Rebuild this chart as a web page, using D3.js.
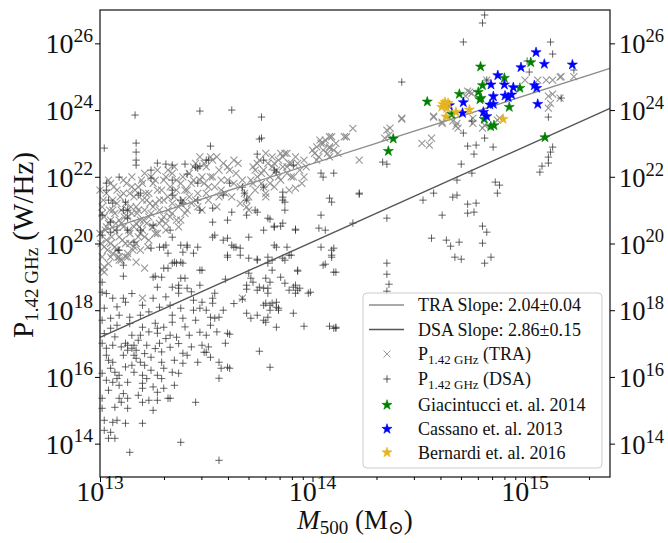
<!DOCTYPE html>
<html>
<head>
<meta charset="utf-8">
<script src="https://cdn.jsdelivr.net/npm/d3@7"></script>
<style>
body { margin: 0; background: #fff; }
text { font-family: "Liberation Serif", "DejaVu Serif", serif; fill: #111; }
</style>
</head>
<body>
<svg id="drawing_region"></svg>
<script>
// values are log10(M500 / Msun), log10(P / W Hz^-1)
var traLog = [
 [13.00,20.3],[13.01,19.6],[13.01,21.1],[13.02,20.8],[13.02,19.9],[13.03,21.5],[13.03,20.1],[13.04,19.4],[13.04,20.6],[13.05,21.8],
 [13.05,20.0],[13.06,19.7],[13.06,21.3],[13.07,20.4],[13.07,20.9],[13.08,19.8],[13.08,21.6],[13.09,20.2],[13.09,20.7],[13.10,21.0],
 [13.10,19.5],[13.11,20.5],[13.11,21.9],[13.12,20.0],[13.12,21.2],[13.13,20.8],[13.13,19.7],[13.14,21.5],[13.14,20.3],[13.15,22.0],
 [13.15,20.9],[13.16,19.9],[13.16,21.4],[13.17,20.6],[13.17,21.1],[13.18,20.2],[13.18,21.7],[13.19,20.7],[13.19,19.8],[13.20,21.3],
 [13.20,20.4],[13.21,21.0],[13.21,22.1],[13.22,20.6],[13.23,21.5],[13.23,20.1],[13.24,20.9],[13.25,21.8],[13.25,20.5],[13.26,21.2],
 [13.27,20.3],[13.27,22.2],[13.28,21.0],[13.29,20.7],[13.29,21.6],[13.30,21.3],[13.31,20.6],[13.31,22.0],[13.32,21.0],[13.33,21.7],
 [13.34,20.9],[13.35,21.4],[13.35,22.3],[13.36,20.7],[13.37,21.1],[13.38,21.8],[13.39,21.3],[13.40,20.9],
 [13.41,21.6],[13.42,22.1],[13.43,21.2],[13.44,21.9],[13.45,22.4],[13.46,21.5],[13.47,22.6],[13.48,21.0],[13.49,21.8],[13.50,22.3],
 [13.51,21.3],[13.52,22.0],[13.53,22.5],[13.54,21.7],[13.55,21.1],[13.56,22.2],[13.57,21.6],[13.58,22.4],[13.60,21.9],[13.62,21.4],
 [13.64,22.1],[13.66,21.7],[13.68,21.5],[13.69,21.3],[13.69,21.1],[13.70,21.4],[13.70,21.0],
 [13.71,21.9],[13.72,22.3],[13.73,21.6],[13.74,22.0],[13.75,22.5],[13.76,21.8],[13.77,22.2],[13.78,21.5],[13.79,22.4],[13.80,22.0],
 [13.81,22.6],[13.82,21.7],[13.83,22.2],[13.84,22.5],[13.85,21.9],[13.86,22.3],[13.87,22.7],[13.88,22.1],[13.89,21.6],[13.90,22.4],
 [13.91,22.0],[13.92,22.6],[13.94,22.2],[13.95,21.8],[13.96,22.5],
 [14.01,22.7],[14.02,22.9],[14.03,22.6],[14.04,23.0],[14.05,22.8],[14.06,23.1],[14.07,22.7],[14.08,22.9],[14.09,23.2],[14.10,22.8],
 [14.11,23.0],[14.12,22.7],[14.19,23.45],[14.16,23.2],[14.22,22.5],[13.88,22.7],[13.92,21.66],[13.96,22.0],[13.78,21.4],
 [14.35,23.4],[14.36,23.25],[14.365,23.46],[14.34,23.16],[14.515,23.0],[14.56,23.16],[14.42,23.73],[14.57,23.79],[14.61,23.64],
 [14.68,23.6],[14.65,23.85],[14.74,24.54],[14.755,23.76],[14.81,23.55],[14.82,24.9],[14.66,23.67],[14.675,23.52],[14.73,24.57],
 [14.755,23.6],[14.80,23.46],[14.87,23.7],[15.0,24.9],[15.06,24.9],[15.10,24.9],[15.13,24.9],[15.17,25.0],[15.23,25.0],[15.11,24.42],
 [15.13,24.48],[15.12,24.2],[15.11,24.06],[14.72,24.42],[14.75,24.5],[14.85,24.39],[14.55,22.95],[14.88,23.76],[15.165,24.99],
 [15.165,24.36],[14.685,23.46],[14.15,23.2],[14.08,22.86],[14.42,23.76],[14.57,23.82],[14.61,23.6],[14.08,23.2],[14.035,23.1],
 [13.02,19.14],[13.20,18.36],[13.17,19.44],[13.21,19.26],[13.05,19.59],[13.09,19.59],[13.13,19.59],[13.67,18.36],[13.01,19.2],
 [13.00,21.6],[13.01,20.9],[13.02,19.3],[13.03,20.5],[13.04,21.9],[13.05,20.7],[13.06,21.0],[13.07,19.9],[13.08,21.2],[13.09,19.5],
 [13.10,20.6],[13.11,21.5],[13.12,19.6],[13.13,21.0],[13.14,20.0],[13.15,21.7],[13.16,20.5],[13.17,20.0],[13.18,21.0],[13.19,20.3],
 [13.20,21.8],[13.21,20.2],[13.22,21.3],[13.23,20.8],[13.24,22.0],[13.25,21.1],[13.26,20.3],[13.27,21.6],[13.28,20.6],[13.30,21.9],
 [13.31,20.4],[13.32,21.4],[13.33,20.8],[13.34,22.1],[13.36,21.6],[13.37,20.5],[13.38,21.2],[13.39,22.0],[13.41,21.0],[13.43,21.8],
 [13.45,21.3],[13.47,21.9],[13.49,22.4],[13.51,21.7],[13.53,22.0],[13.55,22.6],[13.57,21.9],[13.59,21.5],[13.61,22.2],[13.63,21.8],
 [13.65,22.4],[13.67,21.9],[13.72,21.8],[13.74,22.4],[13.76,22.1],[13.78,22.7],[13.80,21.8],[13.82,22.4],[13.84,22.0],[13.86,22.6],
 [13.88,22.3],[13.90,22.0],[13.93,22.4],[13.97,22.3],[14.00,22.8],[14.02,22.5],[14.05,23.0],[14.08,22.6],
 [13.005,20.0],[13.015,21.3],[13.025,20.4],[13.035,19.8],[13.045,21.0],[13.055,20.2],[13.065,21.7],[13.075,20.6],[13.085,19.6],[13.095,21.4],
 [13.105,20.1],[13.115,20.8],[13.125,21.8],[13.135,20.4],[13.145,21.1],[13.155,19.8],[13.165,21.6],[13.175,20.9],[13.185,20.5],[13.195,21.9],
 [13.205,20.7],[13.215,21.5],[13.225,19.9],[13.235,21.2],[13.245,20.5],[13.26,21.9],[13.28,21.3],[13.30,20.8],[13.32,22.2],[13.34,21.2],
 [13.36,21.9],[13.38,20.7],[13.40,21.6],[13.42,21.4],[13.44,22.3],[13.46,21.1],[13.48,22.0],[13.50,21.5],[13.52,22.6],[13.56,21.4],
 [13.60,22.3],[13.63,22.5],[13.66,21.2],[13.73,22.2],[13.77,21.7],[13.81,22.3],[13.85,22.7],[13.89,22.4]
];

var dsaLog = [
 [13.02,22.86],[13.165,23.85],[13.17,23.01],[13.17,22.74],[13.17,22.5],[13.17,22.35],[13.47,23.97],[13.62,24.0],[13.76,23.79],[13.76,23.16],
 [13.52,22.92],[13.74,22.68],[13.77,22.5],[13.27,22.41],[13.31,22.38],[13.34,22.35],[13.40,22.38],[13.45,22.29],[13.47,22.32],[13.50,22.5],
 [13.03,21.81],[13.09,21.99],[13.04,21.3],[13.11,21.0],[13.19,21.51],[13.05,20.64],[13.13,20.4],[13.34,21.9],[13.38,21.3],[13.39,21.21],
 [13.46,21.81],[13.53,20.64],[13.60,20.7],[13.62,20.94],[13.53,20.19],[13.58,20.1],[13.63,19.89],[13.66,19.86],[13.70,19.56],[13.74,19.53],
 [13.79,19.59],[13.81,19.5],[13.83,19.89],[13.88,19.89],[13.86,19.56],[13.89,19.65],[13.73,21.0],[13.79,20.76],[13.82,20.49],[13.86,20.61],
 [13.87,21.0],[13.77,20.4],[13.92,20.4],[13.86,21.54],[13.86,21.3],[14.04,20.85],[14.03,20.46],[14.06,20.4],[14.04,19.89],[14.09,19.8],
 [14.05,19.35],[14.10,19.14],[14.08,21.36],[14.09,21.24],[14.04,22.11],[14.10,22.11],[13.38,19.95],[13.41,19.89],[13.32,19.71],[13.30,19.89],
 [13.26,19.02],[13.30,19.26],[13.47,19.2],[13.34,19.41],[13.36,19.41],[13.39,19.41],[13.11,19.35],[13.085,19.8],[13.70,20.19],[13.61,21.81],
 [13.67,21.69],[13.68,21.51],[13.69,21.3],[13.77,21.69],[13.83,22.14],[13.91,22.35],[13.75,23.13],[13.82,22.2],[13.86,21.39],[13.87,21.24],
 [13.69,20.85],[13.74,20.94],[13.80,20.73],[13.82,20.52],[13.85,20.52],[13.92,20.43],[14.22,21.48],[14.19,20.61],[13.82,19.95],[13.62,19.95],
 [13.64,19.89],[13.66,19.65],[13.60,19.65],[13.90,19.65],[14.09,19.65],[14.05,21.99],
 [13.34,21.6],[13.34,21.45],[13.18,21.45],[13.03,21.6],[13.12,21.24],[13.13,21.0],[13.06,21.21],[13.01,20.85],[13.08,20.4],[13.05,20.34],
 [13.19,20.4],[13.13,20.76],[13.25,20.55],[13.33,20.4],[13.34,20.19],[13.24,19.86],[13.09,19.8],[13.16,20.04],[13.28,19.89],[13.31,19.95],
 [13.39,19.74],[13.41,19.95],[13.46,19.89],[13.44,19.71],[13.54,20.25],[13.60,20.16],[13.53,21.06],[13.58,21.45],[13.47,21.0],[13.46,21.3],
 [13.01,20.25],[13.24,22.2],[13.24,21.96],[13.46,22.26],[13.51,22.5],[13.41,22.08],
 [13.35,19.44],[13.38,19.44],[13.32,19.26],[13.48,19.2],[13.11,19.02],[13.25,18.99],[13.29,18.99],[13.38,18.96],[13.40,18.96],[13.01,18.84],
 [13.01,18.54],[13.27,18.69],[13.34,18.69],[13.37,18.75],[13.37,18.66],[13.37,18.51],[13.41,18.66],[13.47,18.75],[13.25,18.36],[13.06,18.36],
 [13.11,18.36],[13.12,18.24],[13.28,18.09],[13.33,18.15],[13.38,18.06],[13.44,18.3],[13.48,18.24],[13.53,18.36],[13.53,18.21],[13.54,18.51],
 [13.02,18.06],[13.05,17.76],[13.09,17.85],[13.14,17.79],[13.19,17.85],[13.26,17.61],[13.27,17.46],[13.30,17.49],[13.34,17.85],[13.34,17.64],
 [13.39,17.76],[13.44,18.0],[13.47,18.06],[13.52,17.79],[13.54,17.76],[13.56,17.79],[13.60,17.31],[13.01,17.7],[13.05,17.46],[13.08,17.55],
 [13.20,17.49],[13.15,17.25],[13.19,17.25],[13.27,17.31],[13.33,17.25],[13.36,17.19],[13.42,17.25],[13.47,17.34],[13.52,17.55],[13.50,17.25],
 [13.01,17.01],[13.03,16.86],[13.06,16.95],[13.12,17.01],[13.13,16.95],[13.13,16.8],[13.16,16.95],[13.15,16.86],[13.22,16.95],[13.28,17.01],
 [13.33,16.89],[13.39,16.71],[13.41,16.65],[13.46,16.44],[13.52,16.59],[13.50,16.74],[13.03,16.65],[13.06,16.44],[13.11,16.65],[13.16,16.65],
 [13.17,16.56],[13.19,16.44],[13.21,16.35],[13.24,16.59],[13.29,16.44],[13.30,16.26],[13.24,16.2],[13.01,16.11],[13.05,16.26],[13.07,16.14],
 [13.09,16.05],[13.16,16.14],[13.20,16.05],[13.27,16.05],[13.34,16.14],[13.37,16.11],[13.56,15.96],[13.39,16.41],[13.03,15.9],[13.06,15.84],
 [13.09,15.75],[13.13,15.84],[13.20,15.81],[13.20,15.66],[13.27,15.54],[13.30,15.66],[13.32,15.36],[13.01,15.36],[13.01,15.06],[13.07,15.09],
 [13.09,15.36],[13.10,15.24],[13.13,15.06],[13.13,15.36],[13.20,15.24],[13.23,15.3],[13.25,15.0],[13.27,15.3],[13.33,15.36],[13.45,15.24],
 [13.02,14.7],[13.06,14.64],[13.08,14.7],[13.12,14.61],[13.20,14.61],[13.02,14.4],[13.05,14.34],[13.04,14.16],[13.07,14.16],[13.38,14.04],
 [13.14,13.74],[13.56,13.5],[13.57,16.26],[13.60,16.29],[13.56,16.44],[13.75,16.77],[13.80,16.29],[13.59,17.01],[13.49,16.74],
 [13.69,17.91],[13.71,17.76],[13.74,17.85],[13.77,17.7],[13.79,17.79],[13.83,17.49],[13.84,18.0],[13.91,17.91],[13.96,17.52],[14.08,17.52],
 [14.11,17.49],[13.67,18.33],[13.74,18.6],[13.77,18.66],[13.79,18.51],[13.83,18.24],[13.81,18.21],[13.83,18.09],[13.78,18.21],[13.91,18.69],
 [13.93,18.6],[13.98,18.51],[13.80,18.84],[13.85,18.99],[13.87,18.81],[13.93,19.2],[13.69,18.75],[13.72,18.84],[13.59,18.93],[13.60,19.59],
 [13.74,19.5],[13.79,19.41],[13.87,19.5],[13.81,19.2],[13.93,19.17],[14.06,19.38],[14.11,19.14],[14.09,19.59],[13.70,19.11],[13.71,18.96],
 [13.78,18.96],[13.79,18.66],[13.75,18.69],[13.89,18.6],[13.92,18.75],[13.92,18.51],[13.94,18.66],[13.99,18.54],[13.69,18.63],[13.77,18.15],
 [13.80,18.15],[13.84,18.06],[13.80,18.0],[13.78,17.64],[13.61,17.28],[13.61,16.26],
 [14.42,24.84],[14.33,22.44],[14.35,22.38],[14.22,21.51],[14.35,20.76],[14.52,21.3],[14.57,21.51],[14.61,20.85],[14.66,21.39],[14.68,21.45],
 [14.73,22.92],[14.77,22.95],[14.76,22.68],[14.70,22.38],[14.75,22.11],[14.68,21.9],[14.73,21.18],[14.77,21.21],[14.73,20.91],[14.76,20.94],
 [14.56,20.16],[14.63,20.1],[14.65,19.92],[14.69,20.04],[14.67,19.59],[14.70,19.53],[14.80,20.52],[14.82,20.34],[14.80,20.01],[14.81,19.41],
 [14.84,19.59],[14.35,19.41],[14.35,19.08],[14.36,18.78],[14.35,18.57],[14.81,26.85],[14.80,26.61],[14.71,26.04],[15.12,26.04],[15.13,25.68],
 [15.02,25.14],[15.23,25.2],[15.17,24.36],[15.11,23.79],[14.71,23.31],[14.81,23.16],[14.85,22.89],[14.86,21.84],[14.88,21.75],[14.87,21.51],
 [15.08,22.32],[15.07,22.14],[15.11,22.41],[15.13,22.89],[15.12,22.74],[15.11,22.59],[14.10,19.86],[14.10,17.46],[14.11,17.46],[14.82,24.9],
 [15.01,25.47],[14.75,23.67],
 [13.02,17.3],[13.04,16.5],[13.07,17.2],[13.10,16.9],[13.12,16.3],[13.14,17.6],[13.17,16.8],[13.18,17.1],[13.21,16.7],[13.23,17.35],
 [13.26,16.85],[13.29,16.75],[13.31,17.15],[13.35,16.5],[13.37,17.0],[13.40,17.5],[13.43,16.9],[13.45,17.7],[13.48,16.95],[13.51,16.9],
 [13.55,17.35],[13.04,15.6],[13.08,15.95],[13.11,15.5],[13.15,16.35],[13.18,15.45],[13.22,15.95],[13.25,15.7],[13.29,15.95],[13.35,15.75],
 [13.03,18.5],[13.08,18.1],[13.15,18.5],[13.20,18.15],[13.23,17.95],[13.31,18.4],[13.43,18.55],[13.50,18.0],[13.58,18.0],[13.63,18.2]
];

var giacintucciLog = [
 [14.791,25.30],[15.027,25.43],[14.903,24.96],[14.80,24.74],[14.78,24.54],[14.793,24.36],[14.691,24.48],[14.976,24.66],[14.926,24.09],
 [14.54,24.25],[14.655,23.88],[14.808,23.73],[14.839,23.51],[14.854,23.54],[15.094,23.18],[14.38,23.14],[14.357,22.77],[14.788,24.32]
];
var cassanoLog = [
 [15.052,25.73],[15.091,25.38],[15.223,25.36],[14.981,25.28],[14.872,25.04],[14.84,24.76],[14.903,24.76],[14.945,24.68],[15.044,24.74],
 [15.055,24.66],[14.851,24.41],[14.921,24.38],[14.937,24.46],[14.906,24.43],[14.710,24.23],[14.835,24.16],[14.851,24.18],[15.06,24.18],
 [14.644,24.14],[14.804,23.94],[14.82,23.81],[14.706,23.91]
];
var bernardiLog = [
 [14.624,24.24],[14.608,24.09],[14.632,24.06],[14.628,23.80],[14.675,23.94],[14.738,24.01],[14.897,23.73],[14.614,24.18],[14.638,24.21]
];

// power-law fits: log P = slope * log M + intercept
var fitNames = ['TRA Slope: 2.04\u00b10.04', 'DSA Slope: 2.86\u00b10.15'];
var fitSlopes = [2.04, 2.86];
var fitIntercepts = [-6.166, -19.994];

var xTickExps = [13, 14, 15];
var yTickExps = [14, 16, 18, 20, 22, 24, 26];

var width = 668, height = 543;
var margin = {top: 10, right: 58, bottom: 66, left: 100};

var svg = d3.select('#drawing_region')
    .attr('width', width)
    .attr('height', height);

var xscale = d3.scaleLog()
    .domain([1e13, Math.pow(10, 15.4)])
    .range([margin.left, width - margin.right]);
var yscale = d3.scaleLog()
    .domain([1e13, 1e27])
    .range([height - margin.bottom, margin.top]);

var X = d => xscale(Math.pow(10, d[0]));
var Y = d => yscale(Math.pow(10, d[1]));

var plot = svg.append('g');

var crossPath = 'M-3.5,-3.5L3.5,3.5M-3.5,3.5L3.5,-3.5';
var plusPath = 'M-3.7,0H3.7M0,-3.7V3.7';

// TRA points
plot.selectAll('path.tra')
    .data(traLog)
    .join('path')
    .attr('class', 'tra')
    .attr('d', crossPath)
    .attr('transform', d => `translate(${X(d)},${Y(d)})`)
    .attr('fill', 'none')
    .attr('stroke', '#858585')
    .attr('stroke-width', 1.1)
    .attr('opacity', 0.85);

// DSA points
plot.selectAll('path.dsa')
    .data(dsaLog)
    .join('path')
    .attr('class', 'dsa')
    .attr('d', plusPath)
    .attr('transform', d => `translate(${X(d)},${Y(d)})`)
    .attr('fill', 'none')
    .attr('stroke', '#2b2b2b')
    .attr('stroke-width', 1)
    .attr('opacity', 0.72);

// fit lines
var fitColors = ['#8c8c8c', '#555555'];
var xs = xscale.domain();
fitSlopes.forEach(function(s, i){
    var pts = xs.map(m => [m, Math.pow(10, s * Math.log10(m) + fitIntercepts[i])]);
    plot.append('path')
        .attr('d', d3.line().x(p => xscale(p[0])).y(p => yscale(p[1]))(pts))
        .attr('fill', 'none')
        .attr('stroke', fitColors[i])
        .attr('stroke-width', 1.4);
});

// literature samples
var star = d3.symbol().type(d3.symbolStar).size(32);
var samples = [
    {data: giacintucciLog, color: '#008000', name: 'Giacintucci et. al. 2014'},
    {data: cassanoLog, color: '#0000ff', name: 'Cassano et. al. 2013'},
    {data: bernardiLog, color: '#e6b422', name: 'Bernardi et. al. 2016'}
];
samples.forEach(function(s){
    plot.selectAll(null)
        .data(s.data)
        .join('path')
        .attr('d', star)
        .attr('transform', d => `translate(${X(d)},${Y(d)})`)
        .attr('fill', s.color)
        .attr('stroke', s.color)
        .attr('stroke-width', 0.6);
});

// frame
var x0 = margin.left, x1 = width - margin.right, y0 = margin.top, y1 = height - margin.bottom;
svg.append('rect')
    .attr('x', x0).attr('y', y0)
    .attr('width', x1 - x0).attr('height', y1 - y0)
    .attr('fill', 'none').attr('stroke', '#222').attr('stroke-width', 1.3);

function powerLabel(t, exp, size){
    t.append('tspan').text('10');
    t.append('tspan').attr('dy', -size * 0.42).attr('font-size', size * 0.7).text(exp);
}

// x ticks
var xMinor = [];
xTickExps.forEach(function(e){
    for (var k = 2; k <= 9; k++) {
        var v = k * Math.pow(10, e);
        if (v <= xs[1]) xMinor.push(v);
    }
});
svg.append('g')
    .attr('transform', `translate(0,${y1})`)
    .call(d3.axisBottom(xscale).tickValues(xMinor).tickSize(3).tickFormat(''))
    .call(g => g.select('.domain').remove());
svg.append('g')
    .attr('transform', `translate(0,${y1})`)
    .call(d3.axisBottom(xscale).tickValues(xTickExps.map(e => Math.pow(10, e))).tickSize(5).tickFormat(''))
    .call(g => g.select('.domain').remove());
xTickExps.forEach(function(e){
    var t = svg.append('text')
        .attr('x', xscale(Math.pow(10, e)))
        .attr('y', y1 + 24)
        .attr('text-anchor', 'middle')
        .attr('font-size', 28);
    powerLabel(t, e, 28);
});

// y ticks, both sides
var yVals = yTickExps.map(e => Math.pow(10, e));
svg.append('g')
    .attr('transform', `translate(${x0},0)`)
    .call(d3.axisLeft(yscale).tickValues(yVals).tickSize(5).tickFormat(''))
    .call(g => g.select('.domain').remove());
svg.append('g')
    .attr('transform', `translate(${x1},0)`)
    .call(d3.axisRight(yscale).tickValues(yVals).tickSize(5).tickFormat(''))
    .call(g => g.select('.domain').remove());
yTickExps.forEach(function(e){
    var yy = yscale(Math.pow(10, e)) + 10;
    var tl = svg.append('text')
        .attr('x', x0 - 7).attr('y', yy)
        .attr('text-anchor', 'end')
        .attr('font-size', 28);
    powerLabel(tl, e, 28);
    var tr = svg.append('text')
        .attr('x', x1 + 9).attr('y', yy)
        .attr('text-anchor', 'start')
        .attr('font-size', 26.5);
    powerLabel(tr, e, 26.5);
});

// axis titles
var xt = svg.append('text')
    .attr('x', 355).attr('y', 529)
    .attr('text-anchor', 'middle')
    .attr('font-size', 27);
xt.append('tspan').attr('font-style', 'italic').text('M');
xt.append('tspan').attr('font-size', 19).attr('dy', 5).text('500');
xt.append('tspan').attr('dy', -5).text('\u00a0(M');
xt.append('tspan').attr('font-size', 19).attr('dy', 5).text('\u2299');
xt.append('tspan').attr('dy', -5).text(')');

var yt = svg.append('text')
    .attr('transform', 'translate(33,245) rotate(-90)')
    .attr('text-anchor', 'middle')
    .attr('font-size', 29);
yt.append('tspan').text('P');
yt.append('tspan').attr('font-size', 19).attr('dy', 5).text('1.42 GHz');
yt.append('tspan').attr('dy', -5).text('\u00a0(W/Hz)');

// legend
var legend = svg.append('g');
legend.append('rect')
    .attr('x', 363).attr('y', 293)
    .attr('width', 239).attr('height', 175)
    .attr('rx', 4)
    .attr('fill', '#fff').attr('fill-opacity', 0.85)
    .attr('stroke', '#cccccc');
var rowY = [305, 329.5, 354, 379, 405, 429, 452.5];
var labelX = 418, markX = 387;

fitNames.forEach(function(n, i){
    legend.append('line')
        .attr('x1', 369).attr('x2', 404)
        .attr('y1', rowY[i]).attr('y2', rowY[i])
        .attr('stroke', fitColors[i]).attr('stroke-width', 1.4);
    legend.append('text').attr('x', labelX).attr('y', rowY[i] + 6)
        .attr('font-size', 18).text(n);
});
[['TRA', crossPath, '#858585'], ['DSA', plusPath, '#2b2b2b']].forEach(function(r, j){
    var i = j + 2;
    legend.append('path')
        .attr('d', r[1])
        .attr('transform', `translate(${markX},${rowY[i]})`)
        .attr('fill', 'none').attr('stroke', r[2])
        .attr('opacity', 0.8);
    var t = legend.append('text').attr('x', labelX).attr('y', rowY[i] + 6).attr('font-size', 18);
    t.append('tspan').text('P');
    t.append('tspan').attr('font-size', 13).attr('dy', 4).text('1.42 GHz');
    t.append('tspan').attr('dy', -4).text('\u00a0(' + r[0] + ')');
});
samples.forEach(function(s, j){
    var i = j + 4;
    legend.append('path')
        .attr('d', star)
        .attr('transform', `translate(${markX},${rowY[i]})`)
        .attr('fill', s.color).attr('stroke', s.color).attr('stroke-width', 0.6);
    legend.append('text').attr('x', labelX).attr('y', rowY[i] + 6)
        .attr('font-size', 18).text(s.name);
});
</script>
</body>
</html>
